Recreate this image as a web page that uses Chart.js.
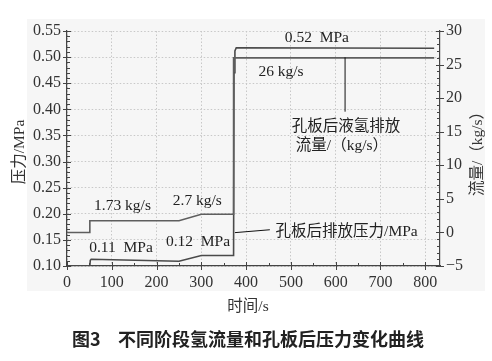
<!DOCTYPE html>
<html><head><meta charset="utf-8">
<script src="https://cdn.jsdelivr.net/npm/chart.js@4"></script>
<style>html,body{margin:0;padding:0;background:#fff}canvas{display:block}</style>
</head><body>
<canvas id="c" width="492" height="361"></canvas>
<script>
// ---- data ----
const flowTime  = [0, 51, 51, 250, 300, 372, 372, 820];
const flowRate  = [0, 0, 1.73, 1.73, 2.7, 2.7, 26, 26];          // kg/s (right axis)
const presTime  = [0, 51, 52, 54, 250, 300, 372, 373, 375, 378, 820];
const presValue = [0.10, 0.10, 0.111, 0.113, 0.109, 0.12, 0.12, 0.47, 0.512, 0.518, 0.517]; // MPa (left axis)
const xTicks = [0, 100, 200, 300, 400, 500, 600, 700, 800];
const leftTicks = [0.10, 0.15, 0.20, 0.25, 0.30, 0.35, 0.40, 0.45, 0.50, 0.55];
const rightTicks = [-5, 0, 5, 10, 15, 20, 25, 30];

const SERIF = "'Liberation Serif','Noto Sans CJK SC',serif";
const labels = [
  {t:'0.52  MPa', x:558, y:0.5375},
  {t:'26 kg/s', x:478, y:0.4723},
  {t:'孔板后液氢排放', x:623, y:0.3667, cjk:true},
  {t:'流量/（kg/s）', x:614, y:0.3293, cjk:true},
  {t:'1.73 kg/s', x:124, y:0.2157},
  {t:'2.7 kg/s', x:291, y:0.2247},
  {t:'0.11  MPa', x:120.6, y:0.1339},
  {t:'0.12  MPa', x:292.5, y:0.1466},
  {t:'孔板后排放压力/MPa', x:624.5, y:0.1658, cjk:true}
];
const leaders = [
  [[621, 0.4995],[621, 0.3955]],
  [[375, 0.1639],[453, 0.1694]]
];

const deco = {
  id:'deco',
  beforeDraw(ch){
    const c = ch.ctx;
    c.save();
    c.fillStyle = '#fff'; c.fillRect(0,0,ch.width,ch.height);
    c.fillStyle = '#f6f6f6'; c.fillRect(27,19,458,272);
    c.restore();
  },
  afterDraw(ch){
    const c = ch.ctx, xs = ch.scales.x, yl = ch.scales.y, yr = ch.scales.y1, a = ch.chartArea;
    c.save();
    c.strokeStyle = '#444'; c.lineWidth = 1;
    c.beginPath();
    for (let i=0;i<=45;i++){ const v=0.10+i*0.01; const p=Math.round(yl.getPixelForValue(v))+0.5;
      const major = i%5===0; c.moveTo(a.left-(major?4:0), p); c.lineTo(a.left+(major?4:3), p); }
    for (let v=-5; v<=30; v++){ const p=Math.round(yr.getPixelForValue(v))+0.5;
      const major = v%5===0; c.moveTo(a.right+(major?4:0), p); c.lineTo(a.right-(major?4:3), p); }
    for (let v=0; v<=800; v+=50){ const p=Math.round(xs.getPixelForValue(v))+0.5;
      const major = v%100===0; c.moveTo(p, a.bottom+(major?4:0)); c.lineTo(p, a.bottom-(major?4:3)); }
    c.stroke();
    c.strokeStyle = '#111'; c.lineWidth = 1;
    leaders.forEach(l=>{ c.beginPath();
      c.moveTo(xs.getPixelForValue(l[0][0]), yl.getPixelForValue(l[0][1]));
      c.lineTo(xs.getPixelForValue(l[1][0]), yl.getPixelForValue(l[1][1])); c.stroke(); });
    c.fillStyle = '#222'; c.textAlign='center'; c.textBaseline='middle';
    labels.forEach(L=>{ c.font = (L.cjk?'15.5px ':'15.5px ')+SERIF;
      c.fillText(L.t, xs.getPixelForValue(L.x), yl.getPixelForValue(L.y)); });
    c.font = '15.5px '+SERIF; c.fillStyle='#333';
    c.fillText('时间/s', 248, 307);
    c.save(); c.translate(20, 152); c.rotate(-Math.PI/2); c.fillText('压力/MPa', 0, 0); c.restore();
    c.save(); c.translate(478, 150); c.rotate(-Math.PI/2); c.fillText('流量/（kg/s）', 0, 0); c.restore();
    c.font = "bold 18px 'Noto Sans CJK SC',sans-serif"; c.fillStyle='#222';
    c.textAlign='left';
    c.fillText('图3', 72, 339);
    c.fillText('不同阶段氢流量和孔板后压力变化曲线', 118, 339);
    c.restore();
  }
};

const gridCommon = {color:'#c8c8c8', lineWidth:1, drawTicks:false};
new Chart(document.getElementById('c'), {
  type:'line',
  data:{ datasets:[
    {label:'flow', yAxisID:'y1', data:flowTime.map((t,i)=>({x:t,y:flowRate[i]})),
     borderColor:'#5e5e5e', borderWidth:1.6, pointRadius:0, tension:0, fill:false},
    {label:'pressure', yAxisID:'y', data:presTime.map((t,i)=>({x:t,y:presValue[i]})),
     borderColor:'#4a4a4a', borderWidth:1.6, pointRadius:0, tension:0, fill:false}
  ]},
  options:{
    responsive:false, animation:false, devicePixelRatio:1,
    layout:{padding:{top:31, left:0, right:0, bottom:0}},
    plugins:{legend:{display:false}, tooltip:{enabled:false}},
    scales:{
      x:{type:'linear', min:0, max:833,
         afterBuildTicks:s=>{s.ticks = xTicks.map(v=>({value:v}));},
         afterFit:s=>{s.height=95;},
         grid:{...gridCommon}, border:{color:'#444', width:1.2, dash:[1.5,2]},
         ticks:{padding:7, color:'#333', font:{family:SERIF, size:16}, maxRotation:0}},
      y:{type:'linear', position:'left', min:0.10, max:0.55,
         afterBuildTicks:s=>{s.ticks = leftTicks.map(v=>({value:v}));},
         afterFit:s=>{s.width=67;},
         grid:{...gridCommon}, border:{color:'#444', width:1.2, dash:[1.5,2]},
         ticks:{padding:6, color:'#333', font:{family:SERIF, size:16}, callback:v=>Number(v).toFixed(2)}},
      y1:{type:'linear', position:'right', min:-5, max:30,
         afterBuildTicks:s=>{s.ticks = rightTicks.map(v=>({value:v}));},
         afterFit:s=>{s.width=52;},
         grid:{display:true, drawOnChartArea:false, drawTicks:false}, border:{color:'#444', width:1.2},
         ticks:{padding:6, color:'#333', font:{family:SERIF, size:16}, callback:v=>v<0?'\u2212'+Math.abs(v):String(v)}}
    }
  },
  plugins:[deco]
});
</script>
</body></html>
